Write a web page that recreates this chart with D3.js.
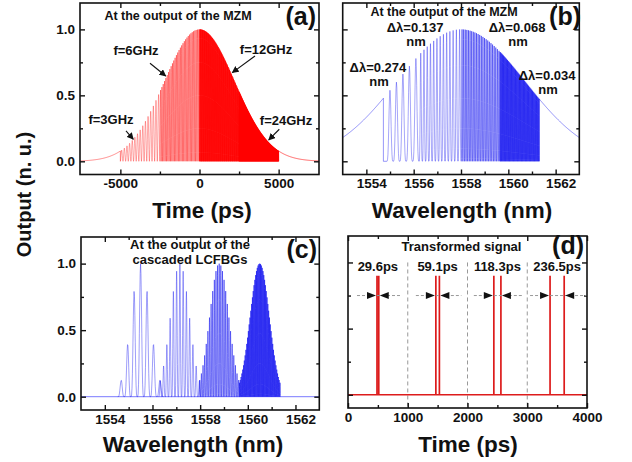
<!DOCTYPE html>
<html>
<head>
<meta charset="utf-8">
<script src="https://cdn.jsdelivr.net/npm/d3@7"></script>
<style>
  html, body { margin: 0; padding: 0; background: #fff; }
  svg { display: block; }
  text { font-family: "Liberation Sans", Arial, sans-serif; font-weight: bold; fill: #111; }
</style>
</head>
<body>
<script>
// ---------- (a) MZM output, time domain ----------
const timeBounds = [-5000, -2500, 0, 2500, 5000];   // ps, one segment per drive tone
const driveFreqGHz = [3, 6, 12, 24];
const timeSigma = 2214;                             // ps, Gaussian pulse envelope
const timeRange = [-7550, 7550];
const freqLabels = ["f=3GHz", "f=6GHz", "f=12GHz", "f=24GHz"];
const freqLabelX = [-5591, -4012, 4201, 5465];
const freqLabelY = [0.283, 0.806, 0.813, 0.275];
const freqArrowFrom = [[-4644, 0.23], [-3127, 0.743], [3506, 0.798], [5042, 0.243]];
const freqArrowTo = [[-4182, 0.167], [-2135, 0.647], [2072, 0.672], [4372, 0.162]];

// ---------- (b) MZM output, optical spectrum ----------
const specRange = [1553, 1563];
const specCenter = 1558, specSigma = 2.7;           // nm
const specEdges = [1554.72, 1561.31];               // where the comb starts / ends
const combBounds = [1554.86, 1556.23, 1558.01, 1559.64, 1561.31];
const lineSpacing = [0.274, 0.137, 0.068, 0.034];   // nm
const spacingLabels = ["\u0394\u03bb=0.274", "\u0394\u03bb=0.137", "\u0394\u03bb=0.068", "\u0394\u03bb=0.034"];
const spacingLabelX = [1554.49, 1556.06, 1560.37, 1561.64];
const spacingLabelY = [0.677, 0.98, 0.98, 0.616];

// ---------- (c) after the cascaded LCFBGs ----------
const gratingCenters = [1555.5, 1557.15, 1558.8, 1560.5];
const gratingHalfCount = [3, 6, 12, 25];            // comb lines on each side of centre
const gratingSigma = 0.4;

// ---------- (d) transformed signal ----------
const pairCenters = [500, 1500, 2500, 3500];        // ps
const pairSeparations = [29.6, 59.1, 118.3, 236.5]; // ps
const pairLabels = ["29.6ps", "59.1ps", "118.3ps", "236.5ps"];
const pulsePeak = 0.9;
const markerLevel = 0.75;
const dividerTimes = [1000, 2000, 3000];

// ---------- ticks ----------
const yMajor = [0, 0.5, 1.0], yMinor = [0.25, 0.75];
const tMajor = [-5000, 0, 5000], tMinor = [-2500, 2500];
const wlMajor = [1554, 1556, 1558, 1560, 1562], wlMinor = [1555, 1557, 1559, 1561];
const dMajor = [0, 1000, 2000, 3000, 4000], dMinor = [500, 1500, 2500, 3500];

// stroke strength per segment / comb band (sparser bands are drawn lighter)
const redAlpha = [0.45, 0.55, 1, 1];
const blueAlpha = [0.5, 0.5, 0.68, 0.85];
const gratingAlpha = [0.55, 0.55, 0.7, 0.85];

const svg = d3.select("body").append("svg").attr("width", 632).attr("height", 462);
const defs = svg.append("defs");

function panel(xDomain, left, right, top, bottom) {
  const x = d3.scaleLinear().domain(xDomain).range([left, right]);
  const y = d3.scaleLinear().domain([-0.1, 1.2]).range([bottom, top]);
  const g = svg.append("g");
  const id = "clip" + Math.round(left) + "_" + Math.round(top);
  defs.append("clipPath").attr("id", id).append("rect")
    .attr("x", left).attr("y", top).attr("width", right - left).attr("height", bottom - top);
  const plot = g.append("g").attr("clip-path", `url(#${id})`);
  return { x, y, g, plot, left, right, top, bottom };
}

function axes(p, xMaj, xMin, yMaj, yMin, showY, xDx) {
  const fmt = d => String(d);
  const add = (axis, tx, ty) => {
    const a = p.g.append("g").attr("transform", `translate(${tx},${ty})`).call(axis);
    a.select(".domain").remove();
    a.selectAll("line").attr("stroke", "#111").attr("stroke-width", 1.4);
    a.selectAll("text").attr("font-size", 13.5).attr("font-family", null).attr("fill", "#111");
    return a;
  };
  const bx = add(d3.axisBottom(p.x).tickValues(xMaj).tickSizeInner(-5).tickSizeOuter(0).tickPadding(4).tickFormat(fmt), 0, p.bottom);
  if (xDx) bx.selectAll("text").attr("x", xDx);
  add(d3.axisBottom(p.x).tickValues(xMin).tickSizeInner(-3).tickSizeOuter(0).tickFormat(""), 0, p.bottom);
  add(d3.axisTop(p.x).tickValues(xMaj).tickSizeInner(-5).tickSizeOuter(0).tickFormat(""), 0, p.top);
  add(d3.axisTop(p.x).tickValues(xMin).tickSizeInner(-3).tickSizeOuter(0).tickFormat(""), 0, p.top);
  add(d3.axisLeft(p.y).tickValues(yMaj).tickSizeInner(-5).tickSizeOuter(0).tickPadding(5)
      .tickFormat(showY ? d3.format(".1f") : ""), p.left, 0);
  add(d3.axisLeft(p.y).tickValues(yMin).tickSizeInner(-3).tickSizeOuter(0).tickFormat(""), p.left, 0);
  add(d3.axisRight(p.y).tickValues(yMaj).tickSizeInner(-5).tickSizeOuter(0).tickFormat(""), p.right, 0);
  add(d3.axisRight(p.y).tickValues(yMin).tickSizeInner(-3).tickSizeOuter(0).tickFormat(""), p.right, 0);
  p.g.append("rect").attr("x", p.left).attr("y", p.top)
    .attr("width", p.right - p.left).attr("height", p.bottom - p.top)
    .attr("fill", "none").attr("stroke", "#111").attr("stroke-width", 1.6);
}

function label(g, txt, x, y, size, anchor) {
  return g.append("text").attr("x", x).attr("y", y).attr("font-size", size)
    .attr("text-anchor", anchor || "middle").text(txt);
}

const line = (p) => d3.line().x(d => p.x(d[0])).y(d => p.y(d[1]));
const gauss = (v, c, s) => Math.exp(-Math.pow(v - c, 2) / (2 * s * s));

// each period / comb line is its own path so dense regions build up colour
function drawSegments(p, segs, color, width) {
  p.plot.append("g").selectAll("path").data(segs).join("path")
    .attr("d", d => line(p)(d.pts)).attr("fill", "none")
    .attr("stroke", color).attr("stroke-width", width).attr("stroke-opacity", d => d.alpha);
}

// ===== (a) =====
const A = panel(timeRange, 80, 319, 3, 174.5);
const envT = t => gauss(t, 0, timeSigma);
const waveSegs = [];
{
  const tailL = [];
  for (let t = timeRange[0]; t < timeBounds[0]; t += 25) tailL.push([t, envT(t)]);
  tailL.push([timeBounds[0], envT(timeBounds[0])], [timeBounds[0], 0]);
  waveSegs.push({ pts: tailL, alpha: 0.6 });
  driveFreqGHz.forEach((f, i) => {
    const t0 = timeBounds[i], t1 = timeBounds[i + 1];
    const fi = 2 * f / 1000;                    // intensity beat, 1/ps
    const n = Math.round(fi * (t1 - t0));
    const P = (t1 - t0) / n;
    for (let k = 0; k < n; k++) {
      const seg = [];
      for (let j = 0; j <= 12; j++) {
        const t = t0 + k * P + j * P / 12;
        const s = Math.sin(Math.PI * j / 12);
        seg.push([t, envT(t) * s * s]);
      }
      waveSegs.push({ pts: seg, alpha: redAlpha[i] });
    }
  });
  const tailR = [[timeBounds[4], 0], [timeBounds[4], envT(timeBounds[4])]];
  for (let t = timeBounds[4] + 25; t <= timeRange[1]; t += 25) tailR.push([t, envT(t)]);
  waveSegs.push({ pts: tailR, alpha: 0.8 });
}
drawSegments(A, waveSegs, "#ff0000", 0.75);
axes(A, tMajor, tMinor, yMajor, yMinor, true, 0);

defs.append("marker").attr("id", "ah").attr("viewBox", "0 0 10 10").attr("refX", 9).attr("refY", 5)
  .attr("markerWidth", 7).attr("markerHeight", 7).attr("markerUnits", "userSpaceOnUse").attr("orient", "auto")
  .append("path").attr("d", "M0,0 L10,5 L0,10 Z").attr("fill", "#111");
freqLabels.forEach((t, i) => {
  label(A.g, t, A.x(freqLabelX[i]), A.y(freqLabelY[i]), 13);
  A.g.append("line")
    .attr("x1", A.x(freqArrowFrom[i][0])).attr("y1", A.y(freqArrowFrom[i][1]))
    .attr("x2", A.x(freqArrowTo[i][0])).attr("y2", A.y(freqArrowTo[i][1]))
    .attr("stroke", "#111").attr("stroke-width", 1.1).attr("marker-end", "url(#ah)");
});
label(A.g, "At the output of the MZM", 178, 19.5, 12.5);
label(A.g, "(a)", 316, 25, 25, "end");
label(svg, "Time (ps)", 202, 218, 22.5);

// ===== (b) =====
const B = panel(specRange, 342.7, 579.3, 3, 174.5);
const envL = l => gauss(l, specCenter, specSigma);
const specSegs = [];
{
  const tailL = [];
  for (let l = specRange[0]; l < specEdges[0]; l += 0.02) tailL.push([l, envL(l)]);
  tailL.push([specEdges[0], envL(specEdges[0])], [specEdges[0], 0], [combBounds[0], 0]);
  specSegs.push({ pts: tailL, alpha: 0.6 });
  lineSpacing.forEach((dl, i) => {
    const a = combBounds[i], b = combBounds[i + 1];
    const n = Math.max(1, Math.round((b - a) / dl));
    const step = (b - a) / n;
    for (let k = 0; k < n; k++) {
      const seg = [];
      for (let j = 0; j <= 16; j++) {
        const l = a + k * step + j * step / 16;
        seg.push([l, envL(l) * Math.pow(Math.sin(Math.PI * j / 16), 4)]);
      }
      specSegs.push({ pts: seg, alpha: blueAlpha[i] });
    }
  });
  const tailR = [[specEdges[1], 0], [specEdges[1], envL(specEdges[1])]];
  for (let l = specEdges[1] + 0.02; l <= specRange[1] + 0.01; l += 0.02) tailR.push([l, envL(l)]);
  specSegs.push({ pts: tailR, alpha: 0.6 });
}
drawSegments(B, specSegs, "#1515f0", 0.75);
axes(B, wlMajor, wlMinor, yMajor, yMinor, false, 5);
spacingLabels.forEach((t, i) => {
  label(B.g, t, B.x(spacingLabelX[i]), B.y(spacingLabelY[i]), 13);
  label(B.g, "nm", B.x(spacingLabelX[i]) + 1, B.y(spacingLabelY[i]) + 14, 13);
});
label(B.g, "At the output of the MZM", 444, 16, 12.5);
label(B.g, "(b)", 581, 25, 25, "end");
label(svg, "Wavelength (nm)", 462, 218, 22.5);

// ===== (c) =====
const C = panel(specRange, 81, 319.3, 237, 410);
C.plot.append("path").datum([[specRange[0], 0], [specRange[1], 0]]).attr("d", line(C))
  .attr("fill", "none").attr("stroke", "#7a7aff").attr("stroke-width", 1);
const gratingSegs = [];
gratingCenters.forEach((c, i) => {
  const dl = lineSpacing[i], K = gratingHalfCount[i];
  for (let k = -K; k <= K; k++) {
    const seg = [];
    for (let j = 0; j <= 16; j++) {
      const l = c + (k - 0.5) * dl + j * dl / 16;
      seg.push([l, gauss(l, c, gratingSigma) * Math.pow(Math.sin(Math.PI * j / 16), 4)]);
    }
    gratingSegs.push({ pts: seg, alpha: gratingAlpha[i] });
  }
});
drawSegments(C, gratingSegs, "#1515f0", 0.75);
axes(C, wlMajor, wlMinor, yMajor, yMinor, true, 5);
label(C.g, "At the output of the", 190, 249, 13);
label(C.g, "cascaded LCFBGs", 190, 264, 13);
label(C.g, "(c)", 317, 258, 25, "end");
label(svg, "Wavelength (nm)", 193, 452, 22.5);

// ===== (d) =====
const D = panel([0, 4000], 348, 587, 236, 408);
dividerTimes.forEach(t => {
  D.plot.append("line").attr("x1", D.x(t)).attr("x2", D.x(t))
    .attr("y1", D.y(1.0)).attr("y2", D.bottom)
    .attr("stroke", "#999").attr("stroke-width", 1).attr("stroke-dasharray", "4,3");
});
const pulses = [];
pairCenters.forEach((c, i) => {
  pulses.push(c - pairSeparations[i] / 2, c + pairSeparations[i] / 2);
});
const sig = [[0, 0]];
pulses.forEach(t => sig.push([t, 0], [t, pulsePeak], [t, 0]));
sig.push([4000, 0]);
D.plot.append("path").datum(sig).attr("d", line(D))
  .attr("fill", "none").attr("stroke", "#dd1c1c").attr("stroke-width", 1.7);
axes(D, dMajor, dMinor, [0, 0.5, 1.0], [0.25, 0.75], false, 0);
pairCenters.forEach((c, i) => {
  const xl = D.x(c - pairSeparations[i] / 2), xr = D.x(c + pairSeparations[i] / 2);
  const yy = D.y(markerLevel);
  D.g.append("line").attr("x1", xl - 20).attr("x2", xr + 22).attr("y1", yy).attr("y2", yy)
    .attr("stroke", "#999").attr("stroke-width", 1).attr("stroke-dasharray", "3,2");
  D.g.append("path").attr("d", `M${xl - 1},${yy} L${xl - 10},${yy - 3.5} L${xl - 10},${yy + 3.5} Z`).attr("fill", "#111");
  D.g.append("path").attr("d", `M${xr + 1},${yy} L${xr + 10},${yy - 3.5} L${xr + 10},${yy + 3.5} Z`).attr("fill", "#111");
  label(D.g, pairLabels[i], D.x(c), D.y(1.0) + 9, 13);
});
label(D.g, "Transformed signal", 461.5, 251, 13);
label(D.g, "(d)", 584, 254, 25, "end");
label(svg, "Time (ps)", 468, 452, 22.5);

// shared y title
svg.append("text").attr("transform", "translate(31,194.5) rotate(-90)")
  .attr("text-anchor", "middle").attr("font-size", 20).text("Output (n. u.)");
</script>
</body>
</html>
